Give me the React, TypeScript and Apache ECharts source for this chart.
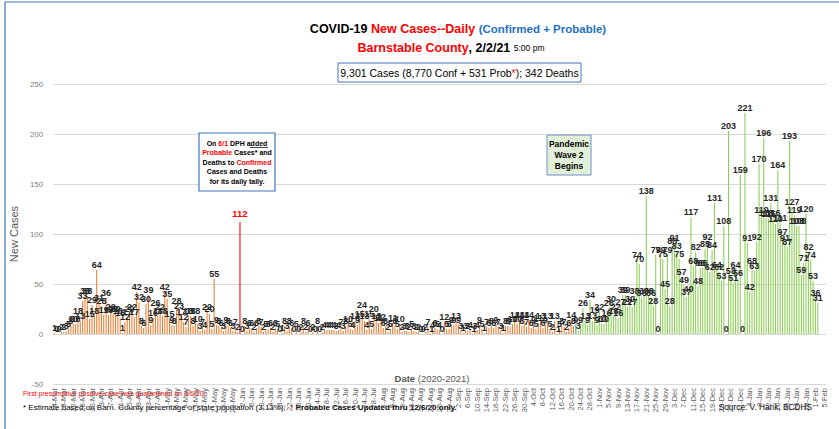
import React, { useEffect, useRef } from "react";
import * as echarts from "echarts";

// Daily new cases, Barnstable County
const mar20 = [1, 0, 0, 2, 2, 3, 5, 8, 10, 10, 18, 13, 33, 38, 38, 15, 29, 18]; // 14-31 Mar
const apr20 = [64, 31, 28, 19, 36, 19, 22, 20, 20, 18, 16, 1, 12, 17, 20, 22, 17, 42, 32, 8, 6, 30, 39, 9, 16, 26, 18, 22, 18, 42];
const may20 = [35, 15, 9, 8, 28, 23, 17, 12, 7, 18, 18, 8, 18, 10, 3, 7, 4, 22, 20, 5, 55, 9, 8, 6, 3, 9, 8, 6, 3, 7, 2];
const jun20 = [112, 0, 8, 3, 6, 6, 2, 6, 8, 7, 2, 5, 5, 6, 2, 6, 5, 0, 1, 8, 3, 8, 6, 0, 5, 0, 2, 8, 2, 6];
const jul20 = [0, 2, 0, 8, 0, 2, 4, 4, 4, 4, 4, 3, 4, 7, 3, 8, 10, 5, 4, 13, 9, 15, 24, 13, 4, 15, 5, 20, 13, 11, 12];
const aug20 = [6, 8, 2, 5, 11, 8, 5, 10, 2, 3, 3, 2, 5, 3, 2, 2, 0, 0, 2, 7, -1, 4, 6, 5, 4, 0, 12, 5, 5, 9, 9];
const sep20 = [13, 9, 3, 1, 3, 3, 4, -1, 3, 4, 9, 5, 1, 7, 6, 8, 6, 9, 7, 3, 1, 8, 8, 7, 10, 14, 10, 14, 8, 14];
const oct20 = [7, 14, 6, 9, 5, 11, 13, 6, 9, 13, 5, 2, 13, -1, 5, 8, 7, 2, 6, 14, 8, 9, 3, 9, 26, 13, 9, 34, 13, 19, 9];
const nov20 = [22, 10, 10, 16, 26, 30, 18, 22, 16, 27, 39, 39, 27, 30, 27, 38, 74, 70, 36, 38, 138, 38, 36, 28, 79, 0, 79, 75, 45, 79];
const dec20 = [28, 88, 91, 83, 75, 57, 49, 37, 40, 117, 68, 82, 48, 66, 66, 85, 92, 62, 84, 131, 64, 62, 53, 108, 0, 203, 58, 51, 64, 56, 159];
const jan21 = [0, 221, 91, 42, 68, 63, 92, 170, 119, 196, 116, 115, 131, 116, 110, 164, 111, 97, 91, 87, 193, 127, 119, 108, 108, 59, 71, 120, 82, 74, 53];
const feb21 = [36, 31];

const monthNames = ["Jan", "Feb", "Mar", "Apr", "May", "Jun", "Jul", "Aug", "Sep", "Oct", "Nov", "Dec"];
const firstDay = [2020, 2, 14];
const dayCount = 329; // 14-Mar-2020 .. 5-Feb-2021
const probableAddedDay = "1-Jun";
const wave2Day = "22-Oct";
const yTicks = { min: -50, max: 250, interval: 50 };

const categories: string[] = [];
for (let i = 0; i < dayCount; i++) {
  const d = new Date(firstDay[0], firstDay[1], firstDay[2] + i);
  categories.push(`${d.getDate()}-${monthNames[d.getMonth()]}`);
}
const values: (number | null)[] = [
  ...mar20, ...apr20, ...may20, ...jun20, ...jul20, ...aug20, ...sep20, ...oct20, ...nov20, ...dec20, ...jan21, ...feb21,
];
while (values.length < categories.length) values.push(null);

const FONT = "'Liberation Sans', Arial, sans-serif";
const ORANGE = "#ED7D31";
const GREEN = "#8CCF55";
const TEAL = "#2FA37A";
const RED = "#FF0000";
const BLUE = "#4472C4";

export default function App() {
  const ref = useRef<HTMLDivElement>(null);
  useEffect(() => {
    if (!ref.current) return;
    const chart = echarts.init(ref.current, null, { renderer: "svg" });
    const redIdx = categories.indexOf(probableAddedDay);
    const waveIdx = categories.indexOf(wave2Day);
    const data = values.map((v, i) => {
      if (v === null) return { value: null };
      const color = i < waveIdx ? ORANGE : i === waveIdx ? TEAL : GREEN;
      const item: any = { value: v, itemStyle: { color } };
      if (i === redIdx) {
        item.itemStyle = { color: RED };
        item.label = { color: RED, fontSize: 9.5, fontWeight: "bold", distance: 4 };
      }
      return item;
    });

    chart.setOption({
      animation: false,
      backgroundColor: "#ffffff",
      textStyle: { fontFamily: FONT },
      grid: { left: 44, top: 84, width: 782, height: 300, containLabel: false },
      xAxis: {
        type: "category",
        data: categories,
        axisLine: { onZero: true, lineStyle: { color: "#d9d9d9" } },
        axisTick: { show: false },
        axisLabel: { interval: 3, rotate: 90, fontSize: 7.5, color: "#595959", margin: 4, fontFamily: FONT },
        splitLine: { show: false },
      },
      yAxis: {
        type: "value",
        min: yTicks.min,
        max: yTicks.max,
        interval: yTicks.interval,
        axisLine: { show: false },
        axisTick: { show: false },
        axisLabel: { fontSize: 8, color: "#7f7f7f", margin: 10, fontFamily: FONT },
        splitLine: { lineStyle: { color: "#d9d9d9", width: 1 } },
        name: "New Cases",
        nameLocation: "middle",
        nameGap: 24,
        nameTextStyle: { fontSize: 11, color: "#595959", fontFamily: FONT },
      },
      series: [
        {
          type: "bar",
          data,
          barCategoryGap: "55%",
          label: {
            show: true,
            position: "top",
            distance: 1,
            fontSize: 9,
            fontWeight: "bold",
            color: "#262626",
            fontFamily: FONT,
          },
        },
      ],
      graphic: [
        { type: "rect", shape: { x: 5, y: 2, width: 845, height: 440 }, style: { fill: "none", stroke: BLUE, lineWidth: 1.2 }, silent: true },
        {
          type: "text",
          x: 458,
          y: 29,
          style: {
            text: "{k|COVID-19 }{r|New Cases--Daily }{b|(Confirmed + Probable)}",
            align: "center",
            verticalAlign: "middle",
            rich: {
              k: { fontSize: 12.5, fontWeight: "bold", fill: "#000", fontFamily: FONT },
              r: { fontSize: 12.5, fontWeight: "bold", fill: RED, fontFamily: FONT },
              b: { fontSize: 11.5, fontWeight: "bold", fill: "#1F6FC5", fontFamily: FONT },
            },
          },
        },
        {
          type: "text",
          x: 451,
          y: 48,
          style: {
            text: "{r|Barnstable County}{k|, 2/2/21 }{s|5:00 pm}",
            align: "center",
            verticalAlign: "middle",
            rich: {
              r: { fontSize: 12.5, fontWeight: "bold", fill: RED, fontFamily: FONT },
              k: { fontSize: 12.5, fontWeight: "bold", fill: "#000", fontFamily: FONT },
              s: { fontSize: 8.5, fill: "#000", fontFamily: FONT },
            },
          },
        },
        { type: "rect", shape: { x: 338, y: 63, width: 243, height: 19 }, style: { fill: "#fff", stroke: BLUE, lineWidth: 1 } },
        {
          type: "text",
          x: 459.5,
          y: 73,
          style: {
            text: "{k|9,301 Cases (8,770 Conf + 531 Prob}{r|*}{k|); 342 Deaths}",
            align: "center",
            verticalAlign: "middle",
            rich: {
              k: { fontSize: 10.5, fill: "#000", fontFamily: FONT },
              r: { fontSize: 10.5, fill: RED, fontFamily: FONT },
            },
          },
        },
        { type: "rect", z: 10, shape: { x: 199, y: 133, width: 76, height: 58 }, style: { fill: "#fff", stroke: BLUE, lineWidth: 1.2 } },
        {
          type: "text",
          z: 11,
          x: 237,
          y: 162,
          style: {
            text:
              "{k|On }{r|6/1}{k| DPH added}\n{r|Probable}{k| Cases* and}\n{k|Deaths to }{r|Confirmed}\n{k|Cases and Deaths}\n{k|for its daily tally.}",
            align: "center",
            verticalAlign: "middle",
            rich: {
              k: { fontSize: 7, fontWeight: "bold", fill: "#000", fontFamily: FONT, lineHeight: 9.5 },
              r: { fontSize: 7, fontWeight: "bold", fill: RED, fontFamily: FONT, lineHeight: 9.5 },
            },
          },
        },
        { type: "line", z: 11, shape: { x1: 250, y1: 147.5, x2: 268, y2: 147.5 }, style: { stroke: "#000", lineWidth: 0.7 } },
        { type: "rect", z: 10, shape: { x: 547, y: 135, width: 44, height: 40 }, style: { fill: "#E2F0D9", stroke: "#6F8FC9", lineWidth: 1 } },
        {
          type: "text",
          z: 11,
          x: 569,
          y: 155,
          style: {
            text: "Pandemic\nWave 2\nBegins",
            align: "center",
            verticalAlign: "middle",
            fontSize: 8.5,
            fontWeight: "bold",
            lineHeight: 11,
            fill: "#000",
            fontFamily: FONT,
          },
        },
        {
          type: "text",
          x: 432,
          y: 378,
          style: {
            text: "{b|Date }{n|(2020-2021)}",
            align: "center",
            verticalAlign: "middle",
            rich: {
              b: { fontSize: 9.5, fontWeight: "bold", fill: "#595959", fontFamily: FONT },
              n: { fontSize: 9.5, fill: "#595959", fontFamily: FONT },
            },
          },
        },
        {
          type: "text",
          x: 23,
          y: 393,
          style: { text: "First presumptive positive case was quarantined on 3/6/20;", fontSize: 7, fill: RED, fontFamily: FONT, verticalAlign: "middle" },
        },
        {
          type: "text",
          x: 23,
          y: 407,
          style: {
            text: "{k|* Estimate based on Barn. County percentage of state population (3.13%);  }{r|* }{b|Probable Cases Updated thru 12/6/20 only.}",
            verticalAlign: "middle",
            rich: {
              k: { fontSize: 8, fill: "#000", fontFamily: FONT },
              r: { fontSize: 8, fill: RED, fontFamily: FONT },
              b: { fontSize: 8, fontWeight: "bold", fill: "#000", fontFamily: FONT },
            },
          },
        },
        {
          type: "text",
          x: 812,
          y: 407,
          style: { text: "Source: V. Harik, BCDHS", fontSize: 8.3, fill: "#000", fontFamily: FONT, align: "right", verticalAlign: "middle" },
        },
      ],
    });
    return () => chart.dispose();
  }, []);
  return <div ref={ref} style={{ position: "absolute", left: 0, top: 0, width: 839, height: 429 }} />;
}
